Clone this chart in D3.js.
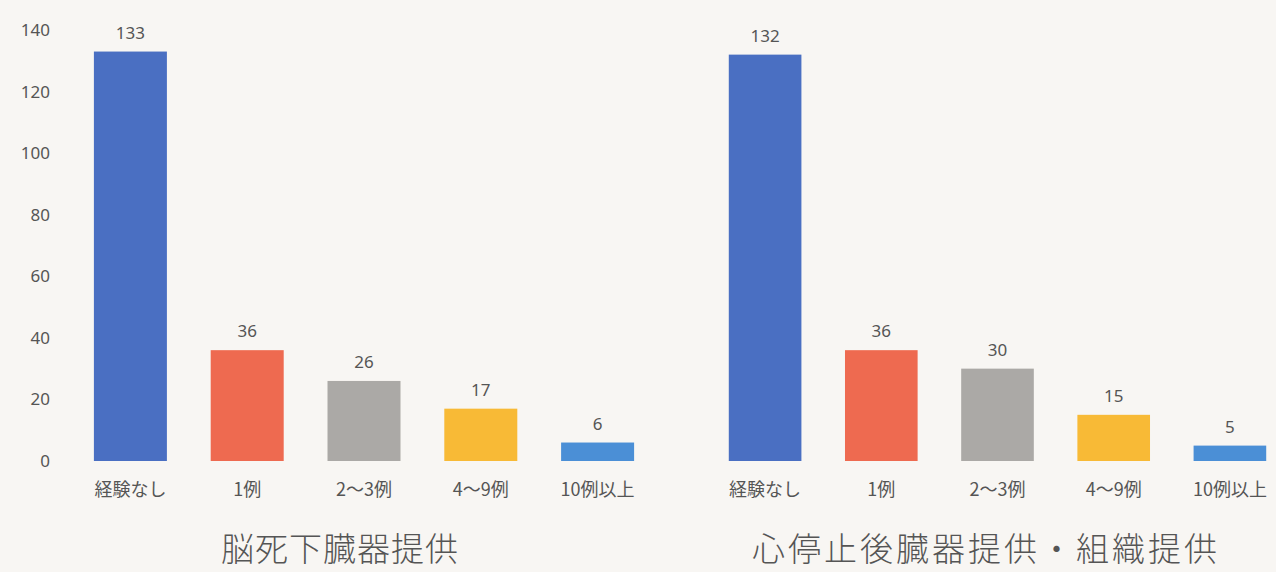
<!DOCTYPE html>
<html>
<head>
<meta charset="utf-8">
<script src="https://cdn.jsdelivr.net/npm/d3@7"></script>
<style>
  html, body { margin: 0; padding: 0; background: #f8f6f3; }
  svg text { font-family: "Noto Sans CJK JP", "Noto Sans", sans-serif; fill: #555; }
</style>
</head>
<body>
<script>
const categories = ['経験なし', '1例', '2〜3例', '4〜9例', '10例以上'];
const brainDeath = [133, 36, 26, 17, 6];
const cardiacDeath = [132, 36, 30, 15, 5];
const yTicks = [0, 20, 40, 60, 80, 100, 120, 140];
const titles = ['脳死下臓器提供', '心停止後臓器提供・組織提供'];
const barColors = ['#4a6fc2', '#ee6a50', '#aba9a6', '#f8ba36', '#4b8fd6'];

const width = 1276;
const height = 572;

const svg = d3
    .select('body')
    .append('svg')
    .attr('width', width)
    .attr('height', height);

// y scale shared by both panels
const yScale = d3.scaleLinear().domain([0, 140]).range([461, 30]);

// y-axis (left panel only)
const yAxis = svg
    .append('g')
    .attr('transform', 'translate(50, 0)')
    .call(d3.axisLeft(yScale).tickValues(yTicks).tickSize(0).tickPadding(0));
yAxis.select('.domain').remove();
yAxis
    .selectAll('text')
    .style('font-family', '"Noto Sans", sans-serif')
    .style('font-size', '17px')
    .attr('fill', '#555');

const panels = [
    { values: brainDeath, range: [72, 656], title: titles[0], titleX: 340, spacing: 1 },
    { values: cardiacDeath, range: [707, 1288], title: titles[1], titleX: 986, spacing: 3 }
];

panels.forEach(p => {
    const xScale = d3
        .scaleBand()
        .domain(categories)
        .range(p.range)
        .paddingInner(0.375)
        .paddingOuter(0.1875);

    const g = svg.append('g');

    // bars
    g.selectAll('rect')
        .data(p.values)
        .enter()
        .append('rect')
        .attr('x', (d, i) => xScale(categories[i]))
        .attr('y', d => yScale(d))
        .attr('width', xScale.bandwidth())
        .attr('height', d => yScale(0) - yScale(d))
        .attr('fill', (d, i) => barColors[i]);

    // value labels
    g.selectAll('text.value')
        .data(p.values)
        .enter()
        .append('text')
        .classed('value', true)
        .attr('x', (d, i) => xScale(categories[i]) + xScale.bandwidth() / 2)
        .attr('y', d => yScale(d) - 13)
        .attr('text-anchor', 'middle')
        .style('font-family', '"Noto Sans", sans-serif')
        .style('font-size', '17px')
        .text(d => d);

    // x-axis category labels
    const xAxis = g
        .append('g')
        .attr('transform', 'translate(0, 482)')
        .call(d3.axisBottom(xScale).tickSize(0).tickPadding(0));
    xAxis.select('.domain').remove();
    xAxis
        .selectAll('text')
        .attr('dy', '0.8em')
        .style('font-family', '"Noto Sans CJK JP", sans-serif')
        .style('font-size', '18px')
        .attr('fill', '#555');

    // panel title
    g.append('text')
        .attr('x', p.titleX)
        .attr('y', 561)
        .attr('text-anchor', 'middle')
        .style('font-size', '33px')
        .style('font-weight', '300')
        .style('letter-spacing', `${p.spacing}px`)
        .text(p.title);
});
</script>
</body>
</html>
